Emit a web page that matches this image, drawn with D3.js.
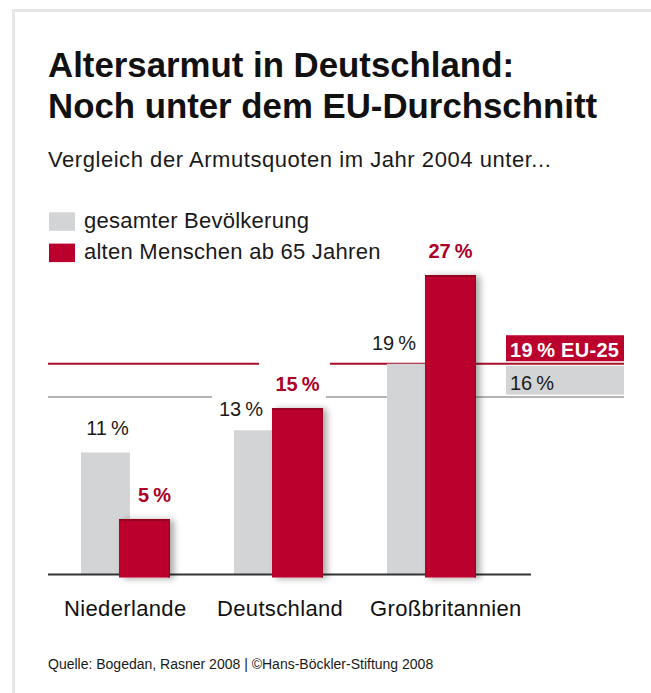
<!DOCTYPE html>
<html><head><meta charset="utf-8">
<script src="https://cdn.jsdelivr.net/npm/d3@7"></script>
<style>body{margin:0;background:#fff}svg{display:block}</style>
</head><body>
<svg id="c" width="651" height="693"></svg>
<script>
// ---- data ----
const categories = ["Niederlande", "Deutschland", "Großbritannien"];
const totalPop   = [11, 13, 19];   // gesamte Bevölkerung, %
const elderly    = [5, 15, 27];    // alte Menschen ab 65, %
const euTotal    = 16;             // EU-25 gesamte Bevölkerung
const euElderly  = 19;             // EU-25 ab 65
const euName     = "EU-25";
const seriesNames = ["gesamter Bevölkerung", "alten Menschen ab 65 Jahren"];
const titleLines = ["Altersarmut in Deutschland:", "Noch unter dem EU-Durchschnitt"];
const subtitle   = "Vergleich der Armutsquoten im Jahr 2004 unter...";
const source     = "Quelle: Bogedan, Rasner 2008 | ©Hans-Böckler-Stiftung 2008";

// ---- style ----
const FONT = "'Liberation Sans', Arial, Helvetica, sans-serif";
const GRAY = "#d3d4d6", RED = "#bc002d", RED_TXT = "#ac0029", RED_LINE = "#a80f2b", GRAY_LINE = "#b5b5b5", INK = "#1a1a1a";
const pct = v => v + "\u2009%";

const svg = d3.select("#c");
svg.style("font-family", FONT);

// shadow filter
const defs = svg.append("defs");
const f = defs.append("filter").attr("id", "sh").attr("x", "-40%").attr("y", "-20%").attr("width", "180%").attr("height", "140%");
f.append("feGaussianBlur").attr("in", "SourceAlpha").attr("stdDeviation", 3.5).attr("result", "b");
f.append("feOffset").attr("in", "b").attr("dx", 4).attr("dy", 1).attr("result", "o");
f.append("feComponentTransfer").attr("in", "o").attr("result", "s")
  .append("feFuncA").attr("type", "linear").attr("slope", 0.35);
const fm = f.append("feMerge");
fm.append("feMergeNode").attr("in", "s");
fm.append("feMergeNode").attr("in", "SourceGraphic");

// frame
svg.append("line").attr("x1", 12).attr("x2", 651).attr("y1", 10.5).attr("y2", 10.5).attr("stroke", "#e6e6e6").attr("stroke-width", 3);
svg.append("line").attr("x1", 13.5).attr("x2", 13.5).attr("y1", 9).attr("y2", 693).attr("stroke", "#e6e6e6").attr("stroke-width", 3);

// title
svg.append("g").selectAll("text").data(titleLines).join("text")
  .attr("x", 48).attr("y", (d, i) => 76.7 + i * 41)
  .attr("font-size", 34.8).attr("font-weight", "bold").attr("fill", "#111")
  .text(d => d);
svg.append("text").attr("x", 48).attr("y", 166.7).attr("font-size", 22).attr("letter-spacing", 0.55).attr("fill", INK).text(subtitle);

// legend
const lg = svg.append("g").selectAll("g").data(seriesNames).join("g")
  .attr("transform", (d, i) => `translate(49,${212.3 + i * 31.3})`);
lg.append("rect").attr("width", 26).attr("height", 18.5).attr("fill", (d, i) => i ? RED : GRAY);
lg.append("text").attr("x", 35).attr("y", 15.6).attr("font-size", 22).attr("letter-spacing", 0.25).attr("fill", INK).text(d => d);

// scales
const y = d3.scaleLinear().domain([0, 27]).range([574.5, 275]);
const x = d3.scaleBand().domain(categories).range([81, 540]).paddingInner(0).paddingOuter(0);
const grayW = 49, redOff = 38, redW = 51;

// reference lines (behind bars)
const lineL = 48, lineR = 624;
svg.append("line").attr("x1", lineL).attr("x2", lineR).attr("y1", y(euElderly)).attr("y2", y(euElderly))
  .attr("stroke", RED_LINE).attr("stroke-width", 2);
svg.append("line").attr("x1", lineL).attr("x2", lineR).attr("y1", y(euTotal)).attr("y2", y(euTotal))
  .attr("stroke", GRAY_LINE).attr("stroke-width", 2);

// knockouts where a label sits between the reference lines
categories.forEach((c, i) => {
  if (elderly[i] < euElderly && elderly[i] + 2 > euTotal) {
    const rx = x(c) + redOff;
    svg.append("rect").attr("x", rx - 13).attr("width", redW + 20)
      .attr("y", y(euElderly) - 2).attr("height", 4).attr("fill", "#fff");
    svg.append("rect").attr("x", x(c) - 22).attr("width", redOff + redW + 25)
      .attr("y", y(euTotal) - 2).attr("height", 4).attr("fill", "#fff");
  }
});

// EU boxes
const bx = 506, bw = lineR - bx;
svg.append("rect").attr("x", bx).attr("width", bw).attr("y", y(euElderly) - 28.5).attr("height", 26).attr("fill", RED);
svg.append("text").attr("x", bx + 4).attr("y", y(euElderly) - 6.5).attr("font-size", 20).attr("font-weight", "bold").attr("letter-spacing", 0.3).attr("fill", "#fff")
  .text(pct(euElderly) + " " + euName);
svg.append("rect").attr("x", bx).attr("width", bw).attr("y", y(euElderly) + 2.2).attr("height", y(euTotal) - y(euElderly) - 4.6).attr("fill", GRAY);
svg.append("text").attr("x", bx + 4).attr("y", y(euTotal) - 7).attr("font-size", 20).attr("fill", INK).text(pct(euTotal));

// gray bars
svg.append("g").selectAll("rect").data(categories).join("rect")
  .attr("x", c => x(c)).attr("width", grayW)
  .attr("y", (c, i) => y(totalPop[i])).attr("height", (c, i) => y(0) - y(totalPop[i]))
  .attr("fill", GRAY);

// axis baseline
svg.append("line").attr("x1", 48).attr("x2", 531).attr("y1", y(0)).attr("y2", y(0)).attr("stroke", "#333").attr("stroke-width", 2);

// red bars
const rg = svg.append("g").selectAll("g").data(categories).join("g").attr("filter", "url(#sh)");
rg.append("rect")
  .attr("x", c => x(c) + redOff).attr("width", redW)
  .attr("y", (c, i) => y(elderly[i])).attr("height", (c, i) => y(0) - y(elderly[i]) + 3)
  .attr("fill", RED);
rg.append("rect")
  .attr("x", c => x(c) + redOff).attr("width", redW)
  .attr("y", (c, i) => y(elderly[i])).attr("height", 2)
  .attr("fill", "#96001f");
rg.append("rect")
  .attr("x", c => x(c) + redOff + redW - 1.5).attr("width", 1.5)
  .attr("y", (c, i) => y(elderly[i])).attr("height", (c, i) => y(0) - y(elderly[i]) + 3)
  .attr("fill", "#a00025");

// value labels
categories.forEach((c, i) => {
  const gx = x(c), rx = gx + redOff;
  const redTaller = elderly[i] > totalPop[i];
  svg.append("text")
    .attr("x", redTaller ? rx - 9 : gx + grayW / 2 + 2)
    .attr("text-anchor", redTaller ? "end" : "middle")
    .attr("y", y(totalPop[i]) - (redTaller ? 14 : 17))
    .attr("font-size", 20).attr("fill", INK).text(pct(totalPop[i]));
  svg.append("text")
    .attr("x", redTaller ? rx + redW / 2 : rx + redW + 1)
    .attr("text-anchor", redTaller ? "middle" : "end")
    .attr("y", y(elderly[i]) - 17)
    .attr("font-size", 20).attr("font-weight", "bold").attr("fill", RED_TXT).text(pct(elderly[i]));
});

// category labels
svg.append("g").selectAll("text").data(categories).join("text")
  .attr("x", c => x(c) - 17).attr("y", 616)
  .attr("font-size", 22).attr("letter-spacing", 0.35).attr("fill", "#111").text(c => c);

// source
svg.append("text").attr("x", 48).attr("y", 669).attr("font-size", 14).attr("fill", INK).text(source);
</script>
</body></html>
